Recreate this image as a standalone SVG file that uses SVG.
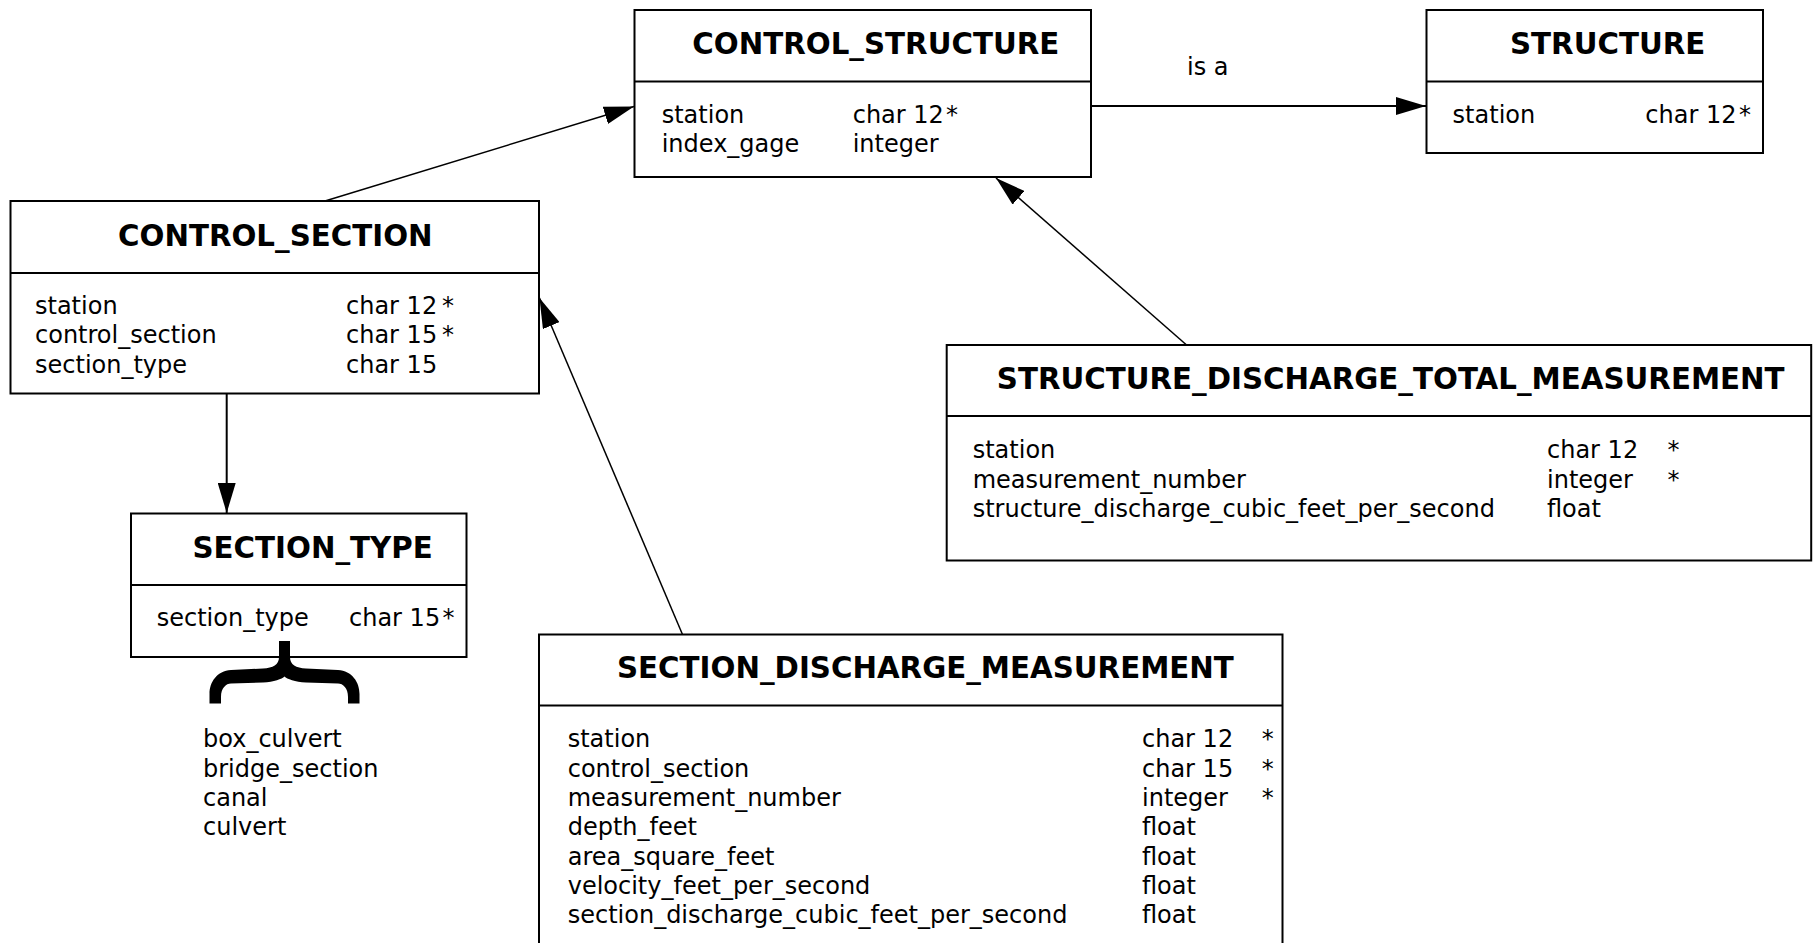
<svg xmlns="http://www.w3.org/2000/svg" width="1820" height="943" viewBox="0 0 1820 943">
<style>
.box{fill:#fff;stroke:#000;stroke-width:2}
.div{stroke:#000;stroke-width:2}
.t{font-family:"DejaVu Sans","Liberation Sans",sans-serif;font-weight:bold;font-size:29.3px;fill:#000}
.a{font-family:"DejaVu Sans","Liberation Sans",sans-serif;font-size:24px;fill:#000}
.c{fill:none;stroke:#000;stroke-width:1.5}
.c2{fill:none;stroke:#000;stroke-width:2}
</style>
<defs>
<marker id="arr" markerUnits="userSpaceOnUse" viewBox="0 0 30 18" refX="30" refY="9" markerWidth="30" markerHeight="18" orient="auto">
<path d="M0,0 L30,9 L0,18 Z" fill="#000"/>
</marker>
</defs>
<rect width="1820" height="943" fill="#fff"/>
<g id="connectors">
<line class="c" x1="325" y1="201" x2="634" y2="106.5" marker-end="url(#arr)"/>
<line class="c2" x1="1091" y1="106" x2="1426" y2="106" marker-end="url(#arr)"/>
<line class="c" x1="1186" y1="344.5" x2="996" y2="178" marker-end="url(#arr)"/>
<line class="c2" x1="226.7" y1="393.5" x2="226.7" y2="513" marker-end="url(#arr)"/>
<line class="c" x1="682.5" y1="634.5" x2="539.5" y2="298" marker-end="url(#arr)"/>
<text class="a" x="1187" y="75">is a</text>
</g>
<g id="control_structure">
<rect class="box" x="634.5" y="10" width="456.5" height="167"/>
<line class="div" x1="634.5" y1="81.5" x2="1091" y2="81.5"/>
<text class="t" x="692.3" y="54.3">CONTROL_STRUCTURE</text>
<text class="a" x="661.7" y="122.5">station</text>
<text class="a" x="852.7" y="122.5">char 12</text>
<text class="a" x="946" y="122.5">*</text>
<text class="a" x="661.7" y="151.5">index_gage</text>
<text class="a" x="852.7" y="151.5">integer</text>
</g>
<g id="structure">
<rect class="box" x="1426.5" y="10" width="336.5" height="143"/>
<line class="div" x1="1426.5" y1="81.5" x2="1763" y2="81.5"/>
<text class="t" x="1510" y="54.3">STRUCTURE</text>
<text class="a" x="1452.6" y="122.5">station</text>
<text class="a" x="1645.3" y="122.5">char 12</text>
<text class="a" x="1739" y="122.5">*</text>
</g>
<g id="control_section">
<rect class="box" x="10.5" y="201" width="528.5" height="192.5"/>
<line class="div" x1="10.5" y1="273" x2="539" y2="273"/>
<text class="t" x="118" y="246">CONTROL_SECTION</text>
<text class="a" x="35" y="314">station</text>
<text class="a" x="346" y="314">char 12</text>
<text class="a" x="442" y="314">*</text>
<text class="a" x="35" y="343.3">control_section</text>
<text class="a" x="346" y="343.3">char 15</text>
<text class="a" x="442" y="343.3">*</text>
<text class="a" x="35" y="372.6">section_type</text>
<text class="a" x="346" y="372.6">char 15</text>
</g>
<g id="section_type">
<rect class="box" x="131" y="513.5" width="335.5" height="143.5"/>
<line class="div" x1="131" y1="585" x2="466.5" y2="585"/>
<text class="t" x="192.5" y="557.7">SECTION_TYPE</text>
<text class="a" x="156.7" y="626">section_type</text>
<text class="a" x="349" y="626">char 15</text>
<text class="a" x="442.5" y="626">*</text>
</g>
<g id="section_type_values">
<path d="M279 641 L290 641 L290 657 C290 665 296 668 306 668.5 L338 670 C352 671 359.5 682 359.5 694 L359.5 703.5 L348 703.5 L348 697 C348 688 343 683.5 338 683.5 L306 682.5 C295 682 287 679 284.5 676.5 C282 679 274 682 263 682.5 L231 683.5 C226 683.5 221 688 221 697 L221 703.5 L209.5 703.5 L209.5 694 C209.5 682 217 671 231 670 L263 668.5 C273 668 279 665 279 657 Z" fill="#000"/>
<text class="a" x="203" y="747.3">box_culvert</text>
<text class="a" x="203" y="776.6">bridge_section</text>
<text class="a" x="203" y="806">canal</text>
<text class="a" x="203" y="835.3">culvert</text>
</g>
<g id="structure_discharge_total_measurement">
<rect class="box" x="946.7" y="345" width="864.5" height="215.5"/>
<line class="div" x1="946.7" y1="416" x2="1811.2" y2="416"/>
<text class="t" x="996.8" y="389.3">STRUCTURE_DISCHARGE_TOTAL_MEASUREMENT</text>
<text class="a" x="972.7" y="458.3">station</text>
<text class="a" x="1547" y="458.3">char 12</text>
<text class="a" x="1667.4" y="458.3">*</text>
<text class="a" x="972.7" y="487.7">measurement_number</text>
<text class="a" x="1547" y="487.7">integer</text>
<text class="a" x="1667.4" y="487.7">*</text>
<text class="a" x="972.7" y="517">structure_discharge_cubic_feet_per_second</text>
<text class="a" x="1547" y="517">float</text>
</g>
<g id="section_discharge_measurement">
<rect class="box" x="539" y="634.5" width="743.5" height="320"/>
<line class="div" x1="539" y1="705.5" x2="1282.5" y2="705.5"/>
<text class="t" x="617" y="677.7">SECTION_DISCHARGE_MEASUREMENT</text>
<text class="a" x="567.7" y="747.3">station</text>
<text class="a" x="1142" y="747.3">char 12</text>
<text class="a" x="1261.7" y="747.3">*</text>
<text class="a" x="567.7" y="776.6">control_section</text>
<text class="a" x="1142" y="776.6">char 15</text>
<text class="a" x="1261.7" y="776.6">*</text>
<text class="a" x="567.7" y="806">measurement_number</text>
<text class="a" x="1142" y="806">integer</text>
<text class="a" x="1261.7" y="806">*</text>
<text class="a" x="567.7" y="835.3">depth_feet</text>
<text class="a" x="1142" y="835.3">float</text>
<text class="a" x="567.7" y="864.6">area_square_feet</text>
<text class="a" x="1142" y="864.6">float</text>
<text class="a" x="567.7" y="894">velocity_feet_per_second</text>
<text class="a" x="1142" y="894">float</text>
<text class="a" x="567.7" y="923.3">section_discharge_cubic_feet_per_second</text>
<text class="a" x="1142" y="923.3">float</text>
</g>
</svg>
